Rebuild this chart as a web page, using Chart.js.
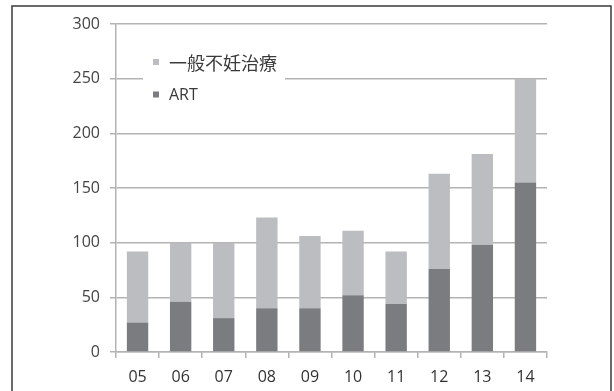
<!DOCTYPE html>
<html>
<head>
<meta charset="utf-8">
<script src="https://cdn.jsdelivr.net/npm/chart.js@4/dist/chart.umd.min.js"></script>
<style>
  html, body { margin: 0; padding: 0; background: #fff; }
  #wrap { width: 614px; height: 391px; position: relative; }
</style>
</head>
<body>
<div id="wrap"><canvas id="c" width="614" height="391"></canvas></div>
<script>
// Fiscal years (two-digit) and counts per treatment type
const years = ['05', '06', '07', '08', '09', '10', '11', '12', '13', '14'];
const artCounts = [27, 46, 31, 40, 40, 52, 44, 76, 98, 155];
const generalCounts = [65, 54, 69, 83, 66, 59, 48, 87, 83, 95];
const seriesNames = ['ART', '一般不妊治療'];
const yTickValues = [0, 50, 100, 150, 200, 250, 300];

const LATIN = '"Open Sans", "Noto Sans CJK JP", sans-serif';
const CJK = '"Noto Sans CJK JP", "Open Sans", sans-serif';

// Page frame: thin dark rule on the left, top and right edges
const framePlugin = {
  id: 'frame',
  afterDraw(chart) {
    const ctx = chart.ctx;
    ctx.save();
    ctx.strokeStyle = '#3a3a3a';
    ctx.lineWidth = 1.5;
    ctx.beginPath();
    ctx.moveTo(12, 391);
    ctx.lineTo(12, 6);
    ctx.lineTo(611, 6);
    ctx.lineTo(611, 391);
    ctx.stroke();
    ctx.restore();
  }
};

// Legend drawn inside the plot on a white patch, top series listed first
const insetLegend = {
  id: 'insetLegend',
  afterDraw(chart, args, opts) {
    const ctx = chart.ctx;
    ctx.save();
    ctx.fillStyle = '#ffffff';
    ctx.fillRect(opts.x - 10, opts.y - 20, 142, 72);
    const items = chart.data.datasets.slice().reverse();
    items.forEach((ds, i) => {
      const cy = opts.y + i * opts.rowGap;
      ctx.fillStyle = ds.backgroundColor;
      ctx.fillRect(opts.x, cy - 3, 6, 6);
      ctx.fillStyle = '#3a3a3a';
      ctx.textBaseline = 'middle';
      ctx.textAlign = 'left';
      ctx.font = /[^\x00-\x7f]/.test(ds.label) ? '18px ' + CJK : '16px ' + LATIN;
      ctx.fillText(ds.label, opts.x + 16, cy + 1);
    });
    ctx.restore();
  }
};

new Chart(document.getElementById('c'), {
  type: 'bar',
  data: {
    labels: years,
    datasets: [
      { label: seriesNames[0], data: artCounts, backgroundColor: '#7b7c80', stack: 's' },
      { label: seriesNames[1], data: generalCounts, backgroundColor: '#bcbdc1', stack: 's' }
    ]
  },
  options: {
    responsive: false,
    animation: false,
    devicePixelRatio: 1,
    layout: { padding: { left: 0, right: 67, top: 24, bottom: 0 } },
    datasets: { bar: { categoryPercentage: 0.8, barPercentage: 0.62 } },
    plugins: {
      legend: { display: false },
      tooltip: { enabled: false },
      insetLegend: { x: 153, y: 62, rowGap: 32.5 }
    },
    scales: {
      x: {
        stacked: true,
        grid: { drawOnChartArea: false, offset: true, tickLength: 6, color: '#b3b3b3', lineWidth: 1.5 },
        border: { color: '#b3b3b3', width: 1.5 },
        ticks: { color: '#333', font: { family: LATIN, size: 16 }, padding: 10 },
        afterFit(s) { s.height = 39; }
      },
      y: {
        stacked: true,
        min: 0,
        max: 300,
        afterBuildTicks(s) { s.ticks = yTickValues.map(v => ({ value: v })); },
        grid: { color: '#b3b3b3', lineWidth: 1.5, tickLength: 6 },
        border: { color: '#b3b3b3', width: 1.5 },
        ticks: { color: '#444', font: { family: LATIN, size: 16 }, padding: 10 },
        afterFit(s) { s.width = 116; }
      }
    }
  },
  plugins: [framePlugin, insetLegend]
});
</script>
</body>
</html>
